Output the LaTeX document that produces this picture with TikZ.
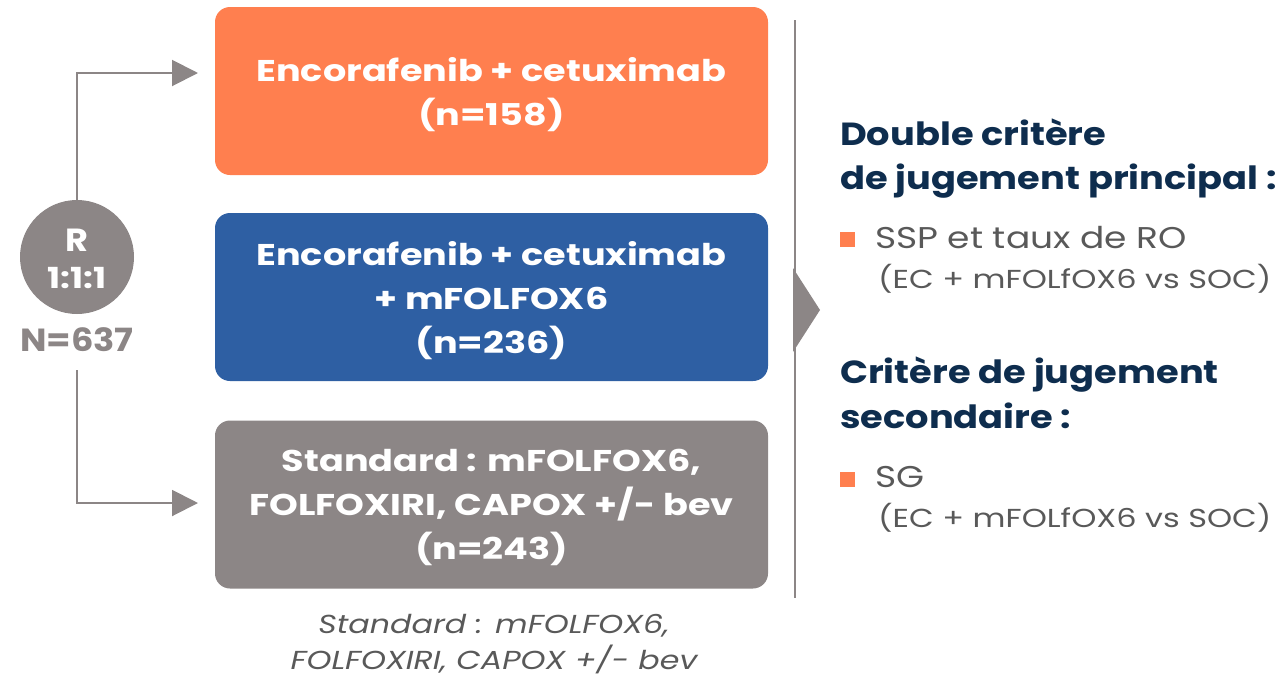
\documentclass[tikz,border=0pt]{standalone}
\usepackage{fontspec}
\setmainfont{Poppins}
\usetikzlibrary{arrows.meta}
\definecolor{corange}{HTML}{FF7F4F}
\definecolor{cblue}{HTML}{2E5FA3}
\definecolor{cgray}{HTML}{8C8686}
\definecolor{cnavy}{HTML}{0E2D4E}
\definecolor{ctext}{HTML}{595959}
\newcommand{\wide}[1]{\addfontfeatures{FakeStretch=#1}}
\begin{document}
\begin{tikzpicture}[x=1pt,y=-1pt,
  arm/.style={rounded corners=15pt, minimum width=553pt, minimum height=168pt,
    text=white, font=\fontsize{30}{44}\selectfont\bfseries\wide{1.22}, align=center,
    inner sep=0pt, text depth=-4pt},
  conn/.style={draw=cgray, line width=2pt, -{Triangle[length=26pt,width=26pt]}},
  head/.style={anchor=base west, text=cnavy, font=\fontsize{32}{45}\selectfont\bfseries\wide{1.15}, inner sep=0pt},
  item/.style={anchor=base west, text=ctext, font=\fontsize{30}{34}\selectfont\wide{1.2}, inner sep=0pt},
  sub/.style={anchor=base west, text=ctext, font=\fontsize{26}{28}\selectfont\wide{1.23}, inner sep=0pt},
  bullet/.style={fill=corange, minimum size=15pt, inner sep=0pt}
]
\useasboundingbox (0,0) rectangle (1286,681);
\node[arm, fill=corange] (b1) at (491.5,91) {Encorafenib + cetuximab\\(n=158)};
\node[arm, fill=cblue] (b2) at (491.5,297) {Encorafenib + cetuximab\\+ mFOLFOX6\\(n=236)};
\node[arm, fill=cgray] (b3) at (491.5,504.5) {Standard : mFOLFOX6,\\FOLFOXIRI, CAPOX +/- bev\\(n=243)};
% randomisation
\node[circle, fill=cgray, minimum size=114pt, inner sep=0pt] (r) at (77,257) {};
\node[text=white, font=\fontsize{32}{32}\selectfont\bfseries\wide{1.1}, inner sep=0pt] (rl) at (77,240) {R};
\node[text=white, font=\fontsize{29}{29}\selectfont\bfseries\wide{1.2}, inner sep=0pt] (rr) at (77,278) {1:1:1};
\node[text=cgray, font=\fontsize{32}{32}\selectfont\bfseries\wide{1.1}, inner sep=0pt] (n) at (77,340) {N=637};
\coordinate (a1) at (198,73);
\coordinate (a3) at (198,503);
\coordinate (nb) at (77,370);
\draw[conn] (r.north) |- (a1);
\draw[conn] (nb) |- (a3);
% separator
\coordinate (s1) at (795,20);
\coordinate (s2) at (795,598);
\draw[cgray, line width=2pt] (s1) -- (s2);
\fill[cgray] (793,268) -- (820,310) -- (793,352) -- cycle;
% right text
\node[head] (h1) at (840,145) {Double critère};
\node[head] (h2) at (840,189) {de jugement principal :};
\node[bullet] (q1) at (847.5,239.5) {};
\node[item] (i1) at (875,248) {SSP et taux de RO};
\node[sub] (s1t) at (878,288) {(EC + mFOLfOX6 vs SOC)};
\node[head] (h3) at (840,383) {Critère de jugement};
\node[head] (h4) at (840,428) {secondaire :};
\node[bullet] (q2) at (847.5,479.5) {};
\node[item] (i2) at (875,487) {SG};
\node[sub] (s2t) at (878,527) {(EC + mFOLfOX6 vs SOC)};
% bottom note
\node[text=ctext, font=\fontsize{26}{36}\selectfont\itshape\wide{1.22}, align=center, inner sep=0pt] (note) at (494,644) {Standard : mFOLFOX6,\\FOLFOXIRI, CAPOX +/- bev};
\end{tikzpicture}
\end{document}
